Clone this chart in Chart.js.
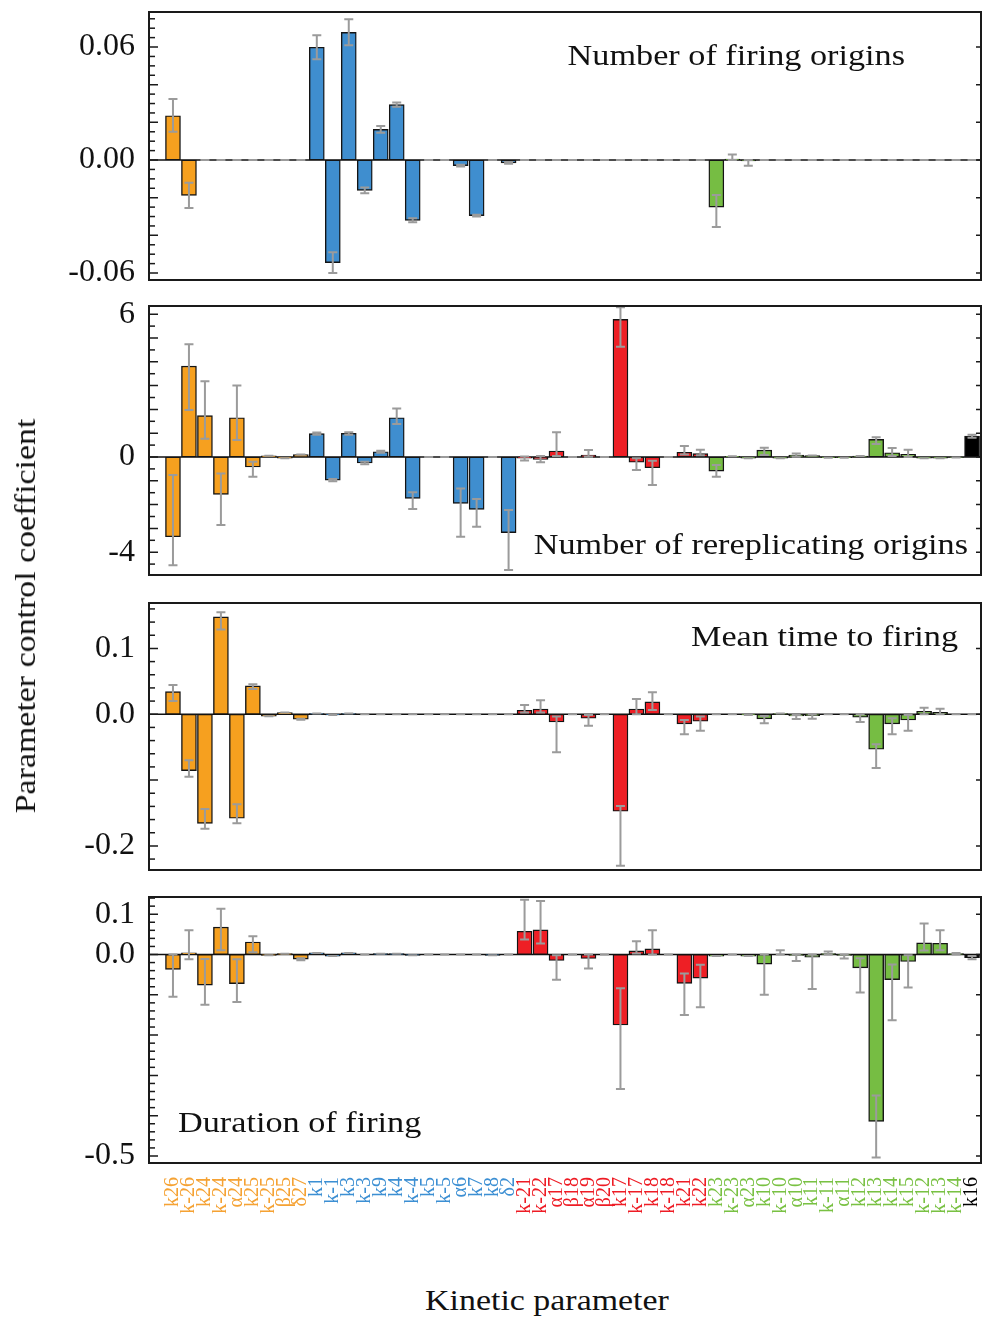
<!DOCTYPE html>
<html>
<head>
<meta charset="utf-8">
<script src="https://cdn.jsdelivr.net/npm/chart.js@4.4.1/dist/chart.umd.min.js"></script>
<style>
  html, body { margin: 0; padding: 0; background: #fff; }
  #page { position: relative; width: 982px; height: 1317px; overflow: hidden; font-family: "Liberation Serif", "Times New Roman", serif; }
  .panel { position: absolute; left: 0; width: 982px; }
  .axis-title { position: absolute; font-size: 30px; white-space: nowrap; color: #111; }
</style>
</head>
<body>
<div id="page">
  <div class="panel" style="top:0;height:290px"><canvas id="firingChart"></canvas></div>
  <div class="panel" style="top:290px;height:295px"><canvas id="rereplChart"></canvas></div>
  <div class="panel" style="top:587px;height:293px"><canvas id="meanTimeChart"></canvas></div>
  <div class="panel" style="top:881px;height:362px"><canvas id="durationChart"></canvas></div>
  <div class="axis-title" style="left:25px;top:616px;transform:translate(-50%,-50%) rotate(-90deg) scaleX(1.13)">Parameter control coefficient</div>
  <div class="axis-title" style="left:547px;top:1300px;transform:translate(-50%,-50%) scaleX(1.13)">Kinetic parameter</div>
</div>
<script>
// kinetic parameters, grouped by colour
const ORANGE_PARAMS = ['k26', 'k-26', 'k24', 'k-24', 'α24', 'k25', 'k-25', 'β25', 'δ27'];
const BLUE_PARAMS = ['k1', 'k-1', 'k3', 'k-3', 'k9', 'k4', 'k-4', 'k5', 'k-5', 'α6', 'k7', 'k8', 'δ2'];
const RED_PARAMS = ['k-21', 'k-22', 'α17', 'β18', 'α19', 'β20', 'k17', 'k-17', 'k18', 'k-18', 'k21', 'k22'];
const GREEN_PARAMS = ['k23', 'k-23', 'α23', 'k10', 'k-10', 'α10', 'k11', 'k-11', 'α11', 'k12', 'k13', 'k14', 'k15', 'k-12', 'k-13', 'k-14'];
const BLACK_PARAMS = ['k16'];

// number of firing origins
const FIRING_VALUE = [0.0235, -0.0188, 0, 0, 0, 0, 0, 0, 0,
    0.0599, -0.0545, 0.0678, -0.0161, 0.0163, 0.0294, -0.032, 0, 0, -0.003, -0.0295, 0, -0.0015,
    0, 0, 0, 0, 0, 0, 0, 0, 0, 0, 0, 0,
    -0.025, 0.0005, -0.0005, 0, 0, 0, 0, 0, 0, 0, 0, 0, 0, 0, 0, 0,
    0];
const FIRING_LOW = [0.015, -0.0255, 0, 0, 0, 0, 0, 0, 0,
    0.0535, -0.06, 0.0609, -0.0176, 0.0145, 0.0283, -0.0331, 0, 0, -0.0035, -0.03, 0, -0.002,
    0, 0, 0, 0, 0, 0, 0, 0, 0, 0, 0, 0,
    -0.0356, 0, -0.003, 0, 0, 0, 0, 0, 0, 0, 0, 0, 0, 0, 0, 0,
    0];
const FIRING_HIGH = [0.0324, -0.0121, 0, 0, 0, 0, 0, 0, 0,
    0.0663, -0.049, 0.0747, -0.0146, 0.0181, 0.0305, -0.0309, 0, 0, -0.0025, -0.029, 0, -0.001,
    0, 0, 0, 0, 0, 0, 0, 0, 0, 0, 0, 0,
    -0.0186, 0.003, 0, 0, 0, 0, 0, 0, 0, 0, 0, 0, 0, 0, 0, 0,
    0];

// number of rereplicating origins
const REREP_VALUE = [-3.35, 3.82, 1.74, -1.57, 1.65, -0.42, 0.05, -0.05, 0.1,
    0.98, -0.97, 0.99, -0.25, 0.22, 1.65, -1.74, 0, 0, -1.95, -2.2, 0, -3.18,
    -0.05, -0.1, 0.25, 0, 0.08, 0, 5.78, -0.22, -0.45, 0, 0.2, 0.14,
    -0.59, 0.03, -0.05, 0.29, -0.05, 0.08, 0.06, -0.03, -0.03, 0.04, 0.74, 0.18, 0.11, -0.05, -0.05, -0.02,
    0.88];
const REREP_LOW = [-4.55, 1.97, 0.77, -2.86, 0.71, -0.83, 0.05, -0.05, 0.1,
    0.93, -1.02, 0.94, -0.3, 0.18, 1.39, -2.18, 0, 0, -3.35, -2.93, 0, -4.75,
    -0.15, -0.22, 0.04, 0, 0.01, 0, 4.63, -0.55, -1.18, 0, 0.11, 0.07,
    -0.83, 0.03, -0.05, 0.08, -0.05, 0.01, 0.06, -0.03, -0.03, 0.04, 0.55, 0.04, 0, -0.05, -0.05, -0.02,
    0.81];
const REREP_HIGH = [-0.76, 4.74, 3.18, -0.69, 3.0, -0.2, 0.05, -0.05, 0.1,
    1.03, -0.92, 1.04, -0.2, 0.26, 2.04, -1.48, 0, 0, -1.32, -1.76, 0, -2.23,
    0.02, 0.04, 1.04, 0, 0.29, 0, 6.29, -0.05, -0.16, 0, 0.46, 0.31,
    -0.34, 0.03, -0.05, 0.39, -0.05, 0.15, 0.06, -0.03, -0.03, 0.04, 0.83, 0.38, 0.31, -0.05, -0.05, -0.02,
    0.94];

// mean time to firing
const MEAN_VALUE = [0.0343, -0.0857, -0.1657, 0.148, -0.158, 0.043, -0.003, 0.0025, -0.0076,
    0.001, -0.001, 0.001, 0, 0, 0, 0, 0, 0, 0, 0, 0, 0,
    0.006, 0.008, -0.0117, 0, -0.006, 0, -0.1474, 0.008, 0.0187, 0, -0.0147, -0.0106,
    0, 0, -0.001, -0.0071, 0.001, -0.0026, -0.002, 0, 0, -0.0046, -0.0532, -0.0147, -0.0087, 0.0046, 0.003, 0,
    0];
const MEAN_LOW = [0.0202, -0.0948, -0.174, 0.1286, -0.1657, 0.0384, -0.003, 0.0025, -0.0085,
    0.001, -0.001, 0.001, 0, 0, 0, 0, 0, 0, 0, 0, 0, 0,
    0.0025, 0.0025, -0.0578, 0, -0.0173, 0, -0.23, 0, 0.0065, 0, -0.0304, -0.025,
    0, 0, -0.001, -0.0137, 0.001, -0.0071, -0.007, 0, 0, -0.0117, -0.0816, -0.0304, -0.025, 0, 0, 0,
    0];
const MEAN_HIGH = [0.0445, -0.07, -0.144, 0.155, -0.1368, 0.0456, -0.003, 0.0025, -0.0067,
    0.001, -0.001, 0.001, 0, 0, 0, 0, 0, 0, 0, 0, 0, 0,
    0.014, 0.0213, -0.0036, 0, -0.001, 0, -0.1394, 0.0233, 0.0334, 0, -0.0087, -0.0036,
    0, 0, -0.001, -0.0026, 0.001, -0.001, 0, 0, 0, 0, -0.0456, -0.006, -0.001, 0.01, 0.0085, 0,
    0];

// duration of firing
const DURATION_VALUE = [-0.037, 0.004, -0.076, 0.068, -0.0723, 0.031, -0.002, 0.002, -0.0116,
    0.004, -0.004, 0.004, 0, 0.002, 0.002, -0.002, 0, 0, 0, 0, -0.002, 0,
    0.0576, 0.061, -0.0148, 0, -0.01, 0, -0.175, 0.009, 0.014, 0, -0.0716, -0.0585,
    -0.004, 0, -0.004, -0.024, 0, -0.002, -0.0066, 0.002, -0.002, -0.033, -0.414, -0.0625, -0.0173, 0.0289, 0.028, 0.002,
    -0.008];
const DURATION_LOW = [-0.105, -0.012, -0.125, 0.0106, -0.118, 0.0057, -0.002, 0.002, -0.014,
    0.004, -0.004, 0.004, 0, 0.002, 0.002, -0.002, 0, 0, 0, 0, -0.002, 0,
    0.037, 0.027, -0.0625, 0, -0.035, 0, -0.334, 0.0025, 0, 0, -0.15, -0.131,
    -0.004, 0, -0.004, -0.1, 0, -0.016, -0.0856, 0, -0.01, -0.094, -0.504, -0.163, -0.082, 0.0099, 0.0106, 0,
    -0.012];
const DURATION_HIGH = [0, 0.06, -0.011, 0.1136, -0.012, 0.045, -0.002, 0.002, -0.009,
    0.004, -0.004, 0.004, 0, 0.002, 0.002, -0.002, 0, 0, 0, 0, -0.002, 0,
    0.136, 0.133, -0.002, 0, 0, 0, -0.084, 0.033, 0.06, 0, -0.047, -0.0254,
    -0.004, 0, -0.004, 0, 0.0106, 0, 0, 0.0074, 0, -0.009, -0.35, -0.0247, -0.0016, 0.077, 0.06, 0.004,
    -0.004];

// y tick labels shown on each panel
const FIRING_TICKS = [-0.06, 0, 0.06];
const REREP_TICKS = [-4, 0, 6];
const MEAN_TICKS = [-0.2, 0, 0.1];
const DURATION_TICKS = [-0.5, 0, 0.1];

const GROUPS = [
    { params: ORANGE_PARAMS, bar: '#F6A01F', label: '#F5A233' },
    { params: BLUE_PARAMS, bar: '#3F8ECF', label: '#3C8FD3' },
    { params: RED_PARAMS, bar: '#EE1F25', label: '#EE1C25' },
    { params: GREEN_PARAMS, bar: '#76BD43', label: '#79C143' },
    { params: BLACK_PARAMS, bar: '#000000', label: '#000000' }
];

const PARAMS = [];
const BAR_COLORS = [];
const LABEL_COLORS = [];
GROUPS.forEach(g => {
    g.params.forEach(p => {
        PARAMS.push(p);
        BAR_COLORS.push(g.bar);
        LABEL_COLORS.push(g.label);
    });
});

Chart.defaults.font.family = '"Liberation Serif", "Times New Roman", serif';
Chart.defaults.color = '#111';

// zero line, error bars, inward ticks, frame and panel caption
const panelDecor = {
    id: 'panelDecor',
    beforeDatasetsDraw(chart) {
        const { ctx, chartArea: a, scales: { y } } = chart;
        const y0 = y.getPixelForValue(0);
        ctx.save();
        ctx.strokeStyle = '#111';
        ctx.lineWidth = 1.5;
        ctx.beginPath();
        ctx.moveTo(a.left, y0);
        ctx.lineTo(a.right, y0);
        ctx.stroke();
        ctx.restore();
    },
    afterDatasetsDraw(chart) {
        const ds = chart.data.datasets[0];
        const { ctx, scales: { x, y } } = chart;
        ctx.save();
        ctx.strokeStyle = '#9b9b9b';
        ctx.lineWidth = 2;
        ds.errLow.forEach((lo, i) => {
            const px = x.getPixelForValue(i);
            const yl = y.getPixelForValue(lo);
            const yh = y.getPixelForValue(ds.errHigh[i]);
            ctx.beginPath();
            ctx.moveTo(px, yl); ctx.lineTo(px, yh);
            ctx.moveTo(px - 4.5, yl); ctx.lineTo(px + 4.5, yl);
            ctx.moveTo(px - 4.5, yh); ctx.lineTo(px + 4.5, yh);
            ctx.stroke();
        });
        ctx.restore();
    },
    afterDraw(chart, args, opts) {
        const { ctx, chartArea: a, scales: { y } } = chart;
        ctx.save();
        ctx.strokeStyle = '#1a1a1a';
        ctx.lineWidth = 1.5;
        const n0 = Math.ceil(y.min / opts.minor - 1e-6);
        const n1 = Math.floor(y.max / opts.minor + 1e-6);
        for (let n = n0; n <= n1; n++) {
            const v = n * opts.minor;
            const py = y.getPixelForValue(v);
            const major = Math.abs(v / opts.major - Math.round(v / opts.major)) < 1e-6;
            ctx.beginPath();
            ctx.moveTo(a.left, py);
            ctx.lineTo(a.left + (major ? 9 : 6), py);
            if (major) {
                ctx.moveTo(a.right, py);
                ctx.lineTo(a.right - 5, py);
            }
            ctx.stroke();
        }
        ctx.lineWidth = 2;
        ctx.strokeRect(a.left, a.top, a.right - a.left, a.bottom - a.top);

        const t = opts.caption;
        ctx.font = '29px "Liberation Serif", serif';
        ctx.fillStyle = '#111';
        ctx.textBaseline = 'middle';
        ctx.textAlign = t.align;
        const tx = t.align === 'right' ? a.right + t.dx : a.left + t.dx;
        const ty = t.fromTop ? a.top + t.dy : a.bottom + t.dy;
        ctx.translate(tx, ty);
        ctx.scale(1.18, 1);
        ctx.fillText(t.text, 0, 0);
        ctx.restore();
    }
};

function drawPanel(canvasId, p) {
    const ctx = document.getElementById(canvasId).getContext('2d');
    return new Chart(ctx, {
        type: 'bar',
        data: {
            labels: PARAMS.map((_, i) => i),
            datasets: [{
                data: p.values,
                errLow: p.low,
                errHigh: p.high,
                backgroundColor: BAR_COLORS,
                borderColor: '#141414',
                borderWidth: 1.4,
                borderSkipped: false,
                barThickness: 15
            }]
        },
        options: {
            responsive: true,
            maintainAspectRatio: false,
            animation: false,
            layout: { padding: { top: p.padTop, bottom: p.padBottom, left: 0, right: 1 } },
            plugins: {
                legend: { display: false },
                tooltip: { enabled: false },
                panelDecor: { minor: p.minor, major: p.major, caption: p.caption }
            },
            scales: {
                x: {
                    type: 'linear',
                    offset: false,
                    min: -1.5,
                    max: 50.56,
                    display: p.showParams,
                    grid: { display: false, drawTicks: false },
                    border: { display: false },
                    afterBuildTicks: s => { s.ticks = PARAMS.map((_, i) => ({ value: i })); },
                    afterFit: s => {
                        if (p.showParams) s.height = 80;
                        s.paddingLeft = 0;
                        s.paddingRight = 0;
                    },
                    ticks: {
                        autoSkip: false,
                        minRotation: 90,
                        maxRotation: 90,
                        padding: 14,
                        font: { size: 20 },
                        color: c => LABEL_COLORS[c.index],
                        callback: v => PARAMS[v]
                    }
                },
                y: {
                    min: p.min,
                    max: p.max,
                    grid: { display: false, drawTicks: false },
                    border: { display: false },
                    afterBuildTicks: s => { s.ticks = p.ticks.map(v => ({ value: v })); },
                    afterFit: s => {
                        s.width = 149;
                        s.paddingTop = 0;
                        s.paddingBottom = 0;
                    },
                    ticks: {
                        padding: 14,
                        font: { size: 32 },
                        color: '#111',
                        callback: v => v.toFixed(p.decimals)
                    }
                }
            }
        },
        plugins: [panelDecor]
    });
}

drawPanel('firingChart', {
    values: FIRING_VALUE, low: FIRING_LOW, high: FIRING_HIGH, ticks: FIRING_TICKS,
    min: -0.0637, max: 0.0786, decimals: 2, minor: 0.005, major: 0.02,
    padTop: 12, padBottom: 10, showParams: false,
    caption: { text: 'Number of firing origins', align: 'right', dx: -76, fromTop: true, dy: 45 }
});
drawPanel('rereplChart', {
    values: REREP_VALUE, low: REREP_LOW, high: REREP_HIGH, ticks: REREP_TICKS,
    min: -4.958, max: 6.345, decimals: 0, minor: 0.5, major: 1,
    padTop: 16, padBottom: 10, showParams: false,
    caption: { text: 'Number of rereplicating origins', align: 'right', dx: -13, fromTop: false, dy: -29 }
});
drawPanel('meanTimeChart', {
    values: MEAN_VALUE, low: MEAN_LOW, high: MEAN_HIGH, ticks: MEAN_TICKS,
    min: -0.2366, max: 0.169, decimals: 1, minor: 0.02, major: 0.1,
    padTop: 16, padBottom: 10, showParams: false,
    caption: { text: 'Mean time to firing', align: 'right', dx: -23, fromTop: true, dy: 35 }
});
drawPanel('durationChart', {
    values: DURATION_VALUE, low: DURATION_LOW, high: DURATION_HIGH, ticks: DURATION_TICKS,
    min: -0.5174, max: 0.1427, decimals: 1, minor: 0.02, major: 0.1,
    padTop: 16, padBottom: 0, showParams: true,
    caption: { text: 'Duration of firing', align: 'left', dx: 29, fromTop: false, dy: -39 }
});
</script>
</body>
</html>
